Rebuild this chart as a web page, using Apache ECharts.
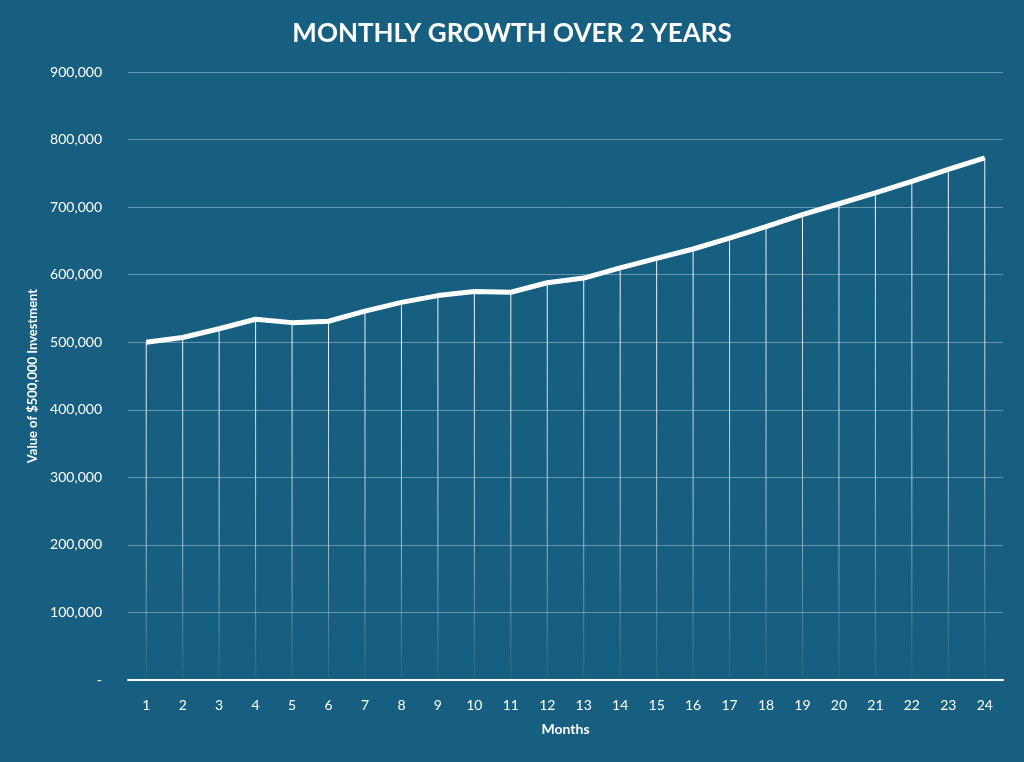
<!DOCTYPE html>
<html>
<head>
<meta charset="utf-8">
<script src="https://cdn.jsdelivr.net/npm/echarts@6/dist/echarts.min.js"></script>
<style>html,body{margin:0;padding:0;background:#175f80;}#chart{width:1024px;height:762px;}</style>
</head>
<body>
<div id="chart"></div>
<script>
var months = ['1','2','3','4','5','6','7','8','9','10','11','12','13','14','15','16','17','18','19','20','21','22','23','24'];
var values = [500000,507000,520000,534000,529000,531000,546000,559000,569000,575000,574000,588000,595000,610000,624000,638000,654000,671000,689000,705000,721000,738000,756000,773000];

var myChart = echarts.init(document.getElementById('chart'));
var option = {
	backgroundColor: '#175f80',
	textStyle: {fontFamily: 'Lato'},
	title: {
		text: 'MONTHLY GROWTH OVER 2 YEARS',
		left: 'center',
		top: 16,
		textStyle: {color: '#fff', fontSize: 26, fontWeight: 'bold', fontFamily: 'Lato'}
	},
	grid: {left: 128, right: 21, top: 72, bottom: 82},
	xAxis: {
		type: 'category',
		data: months,
		boundaryGap: true,
		name: 'Months',
		nameLocation: 'middle',
		nameGap: 42,
		nameTextStyle: {color: '#fff', fontSize: 14, fontWeight: 'bold'},
		axisLine: {lineStyle: {color: '#fff', width: 2}},
		axisTick: {show: false},
		axisLabel: {color: '#fff', fontSize: 14, margin: 18}
	},
	yAxis: {
		type: 'value',
		min: 0,
		max: 900000,
		interval: 100000,
		name: 'Value of $500,000 Investment',
		nameLocation: 'middle',
		nameGap: 88,
		nameTextStyle: {color: '#fff', fontSize: 13, fontWeight: 'bold'},
		axisLabel: {
			color: '#fff', fontSize: 14, margin: 26,
			formatter: function(v){ return v === 0 ? '-' : v.toLocaleString('en-US'); }
		},
		splitLine: {lineStyle: {color: 'rgba(255,255,255,0.35)', width: 1}}
	},
	series: [
		{
			type: 'bar',
			data: values,
			barWidth: 1,
			silent: true,
			itemStyle: {
				color: new echarts.graphic.LinearGradient(0, 0, 0, 1, [
					{offset: 0, color: 'rgba(255,255,255,0.95)'},
					{offset: 0.6, color: 'rgba(255,255,255,0.6)'},
					{offset: 1, color: 'rgba(255,255,255,0.05)'}
				])
			}
		},
		{
			type: 'line',
			data: values,
			symbol: 'none',
			lineStyle: {color: '#fff', width: 5},
			z: 5
		}
	]
};
myChart.setOption(option);
</script>
</body>
</html>
